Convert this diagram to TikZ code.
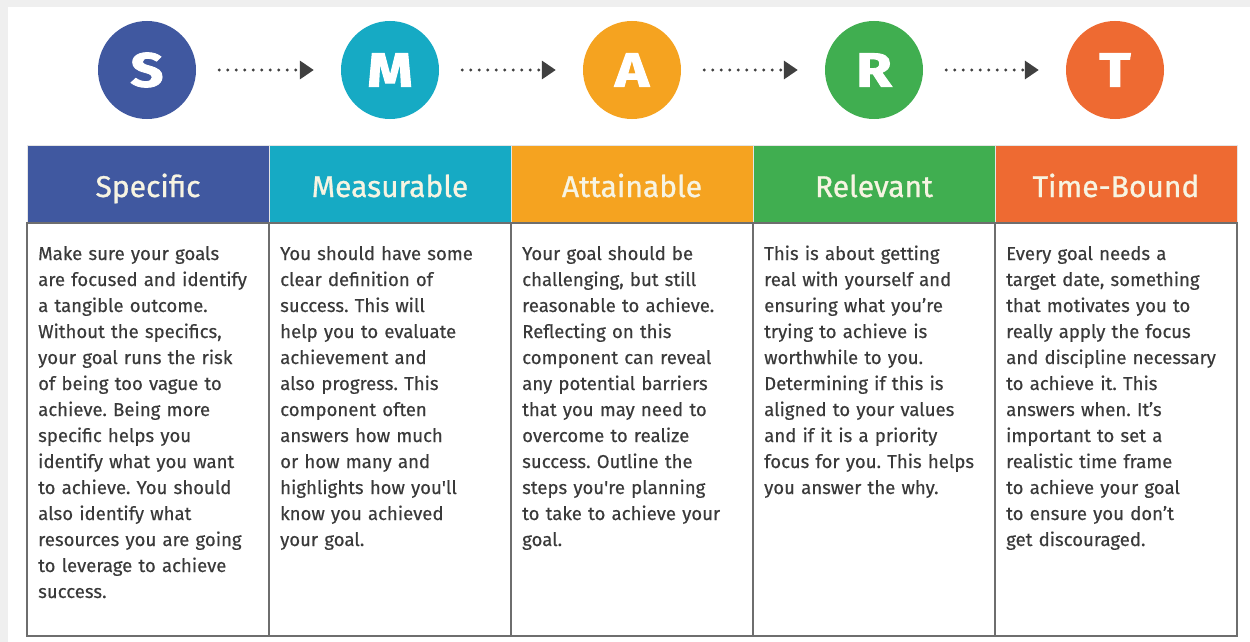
\documentclass[tikz,border=0pt]{standalone}
\usepackage{fontspec}
\usepackage{graphicx}
\setmainfont{Fira Sans}
\newfontfamily\headfont[FakeBold=0.9]{Fira Sans}
\newfontfamily\bodyfont[FakeBold=0.35]{Fira Sans}
\newfontfamily\letterfont[BoldFeatures={FakeBold=1.8}]{Fira Sans}
\newcommand{\wideletter}[1]{\scalebox{1.2}[1]{#1}}
\usetikzlibrary{arrows.meta}
\definecolor{cS}{RGB}{64,88,160}
\definecolor{cM}{RGB}{22,170,196}
\definecolor{cA}{RGB}{245,163,32}
\definecolor{cR}{RGB}{64,174,80}
\definecolor{cT}{RGB}{238,106,50}
\definecolor{bg}{RGB}{239,239,239}
\definecolor{txt}{RGB}{58,58,58}
\definecolor{head}{RGB}{247,244,226}
\definecolor{frame}{RGB}{110,110,110}
\definecolor{arr}{RGB}{64,64,64}
\tikzset{
  letter/.style={circle, minimum size=98pt, inner sep=0pt, text=white,
    font=\letterfont\fontsize{48}{48}\selectfont\bfseries},
  headcell/.style={rectangle, minimum width=242pt, minimum height=78pt, inner sep=0pt, draw=white!90!black, line width=0.6pt},
  headtext/.style={anchor=base, inner sep=0pt, text=head, font=\headfont\fontsize{30}{30}\selectfont},
  bodytext/.style={anchor=base west, inner sep=0pt, text=txt, text width=240pt, align=left,
    font=\bodyfont\fontsize{18.6}{26}\selectfont\frenchspacing},
  flow/.style={draw=arr, line width=3.3pt, line cap=round, dash pattern=on 0pt off 8.5pt,
    -{Triangle[length=14pt,width=18pt]}}
}
\begin{document}
\begin{tikzpicture}[x=1pt,y=-1pt]
\useasboundingbox (0,0) rectangle (1250,642);
\fill[bg] (0,0) rectangle (1250,642);
\fill[white] (8,7) rectangle (1250,642);
% circles
\node[letter, fill=cS] (S) at (147,70) {\wideletter{S}};
\node[letter, fill=cM] (M) at (390,70) {\wideletter{M}};
\node[letter, fill=cA] (A) at (632,70) {\wideletter{A}};
\node[letter, fill=cR] (R) at (874,70) {\wideletter{R}};
\node[letter, fill=cT] (T) at (1115,70) {\wideletter{T}};
% arrows
\foreach \a/\b in {S/M, M/A, A/R, R/T}{
  \draw[flow] ([xshift=23pt]\a.east) -- ([xshift=-27pt]\b.west);
}
% header cells
\node[headcell, fill=cS] (hS) at (148,184) {};
\node[headcell, fill=cM] (hM) at (390,184) {};
\node[headcell, fill=cA] (hA) at (632,184) {};
\node[headcell, fill=cR] (hR) at (874,184) {};
\node[headcell, fill=cT] (hT) at (1116,184) {};
\node[headtext] (tS) at (148,197) {Specific};
\node[headtext] (tM) at (390,197) {Measurable};
\node[headtext] (tA) at (632,197) {Attainable};
\node[headtext] (tR) at (874,197) {Relevant};
\node[headtext] (tT) at (1116,197) {Time-Bound};
% body frame
\draw[frame, line width=1.4pt] (27,223) rectangle (1237,636);
\foreach \x in {269,511,753,995}{
  \draw[frame, line width=1.2pt] (\x,223) -- (\x,636);
}
% body texts
\node[bodytext] (bS) at (38,260) {Make sure your goals\\
are focused and identify\\
a tangible outcome.\\
Without the specifics,\\
your goal runs the risk\\
of being too vague to\\
achieve. Being more\\
specific helps you\\
identify what you want\\
to achieve. You should\\
also identify what\\
resources you are going\\
to leverage to achieve\\
success.};
\node[bodytext] (bM) at (280,260) {You should have some\\
clear definition of\\
success. This will\\
help you to evaluate\\
achievement and\\
also progress. This\\
component often\\
answers how much\\
or how many and\\
highlights how you'll\\
know you achieved\\
your goal.};
\node[bodytext] (bA) at (522,260) {Your goal should be\\
challenging, but still\\
reasonable to achieve.\\
Reflecting on this\\
component can reveal\\
any potential barriers\\
that you may need to\\
overcome to realize\\
success. Outline the\\
steps you're planning\\
to take to achieve your\\
goal.};
\node[bodytext] (bR) at (764,260) {This is about getting\\
real with yourself and\\
ensuring what you’re\\
trying to achieve is\\
worthwhile to you.\\
Determining if this is\\
aligned to your values\\
and if it is a priority\\
focus for you. This helps\\
you answer the why.};
\node[bodytext] (bT) at (1006,260) {Every goal needs a\\
target date, something\\
that motivates you to\\
really apply the focus\\
and discipline necessary\\
to achieve it. This\\
answers when. It’s\\
important to set a\\
realistic time frame\\
to achieve your goal\\
to ensure you don’t\\
get discouraged.};
\end{tikzpicture}
\end{document}
